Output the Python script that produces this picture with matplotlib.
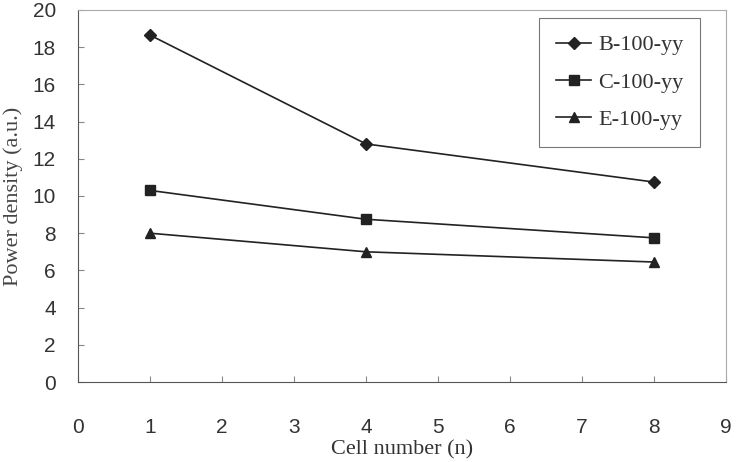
import matplotlib
matplotlib.use("Agg")
import matplotlib.pyplot as plt

cells = [1, 4, 8]
b_100 = [18.65, 12.8, 10.75]
c_100 = [10.3, 8.75, 7.75]
e_100 = [8.0, 7.0, 6.45]

fig = plt.figure(figsize=(7.38, 4.62), dpi=100)
ax = fig.add_axes([78 / 738, 80 / 462, 648 / 738, 372 / 462])

line_kw = dict(color="#222222", linewidth=1.2, markersize=7)
ax.plot(cells, b_100, marker="D", label="B-100-yy",
        color="#222222", linewidth=1.2, markersize=6)
ax.plot(cells, c_100, marker="s", label="C-100-yy", **line_kw)
ax.plot(cells, e_100, marker="^", label="E-100-yy", **line_kw)

ax.set_xlim(0, 9)
ax.set_ylim(0, 20)
ax.set_xticks(range(0, 10))
ax.set_yticks(range(0, 21, 2))
ax.tick_params(direction="in", length=4, color="#888888", labelsize=15,
               labelcolor="#333333")
ax.tick_params(axis="x", pad=26)
ax.tick_params(axis="y", pad=16)
for lbl in ax.get_xticklabels() + ax.get_yticklabels():
    lbl.set_family("Liberation Sans")

for side in ["left", "bottom"]:
    ax.spines[side].set_color("#555555")
for side in ["top", "right"]:
    ax.spines[side].set_color("#aaaaaa")

ax.set_xlabel("Cell number (n)", family="Liberation Serif", fontsize=16,
              color="#333333", labelpad=2)
ax.set_ylabel("Power density (a.u.)", family="Liberation Serif", fontsize=16,
              color="#444444", labelpad=7)

leg = ax.legend(loc="upper right", bbox_to_anchor=(0.96, 0.978),
                borderaxespad=0,
                prop={"family": "Liberation Serif", "size": 16},
                frameon=True, fancybox=False, edgecolor="#555555",
                handlelength=1.6, handletextpad=0.3, labelspacing=0.75,
                borderpad=0.75)
leg.get_frame().set_linewidth(0.8)
for t in leg.get_texts():
    t.set_color("#333333")

fig.savefig("out.png", dpi=100)
